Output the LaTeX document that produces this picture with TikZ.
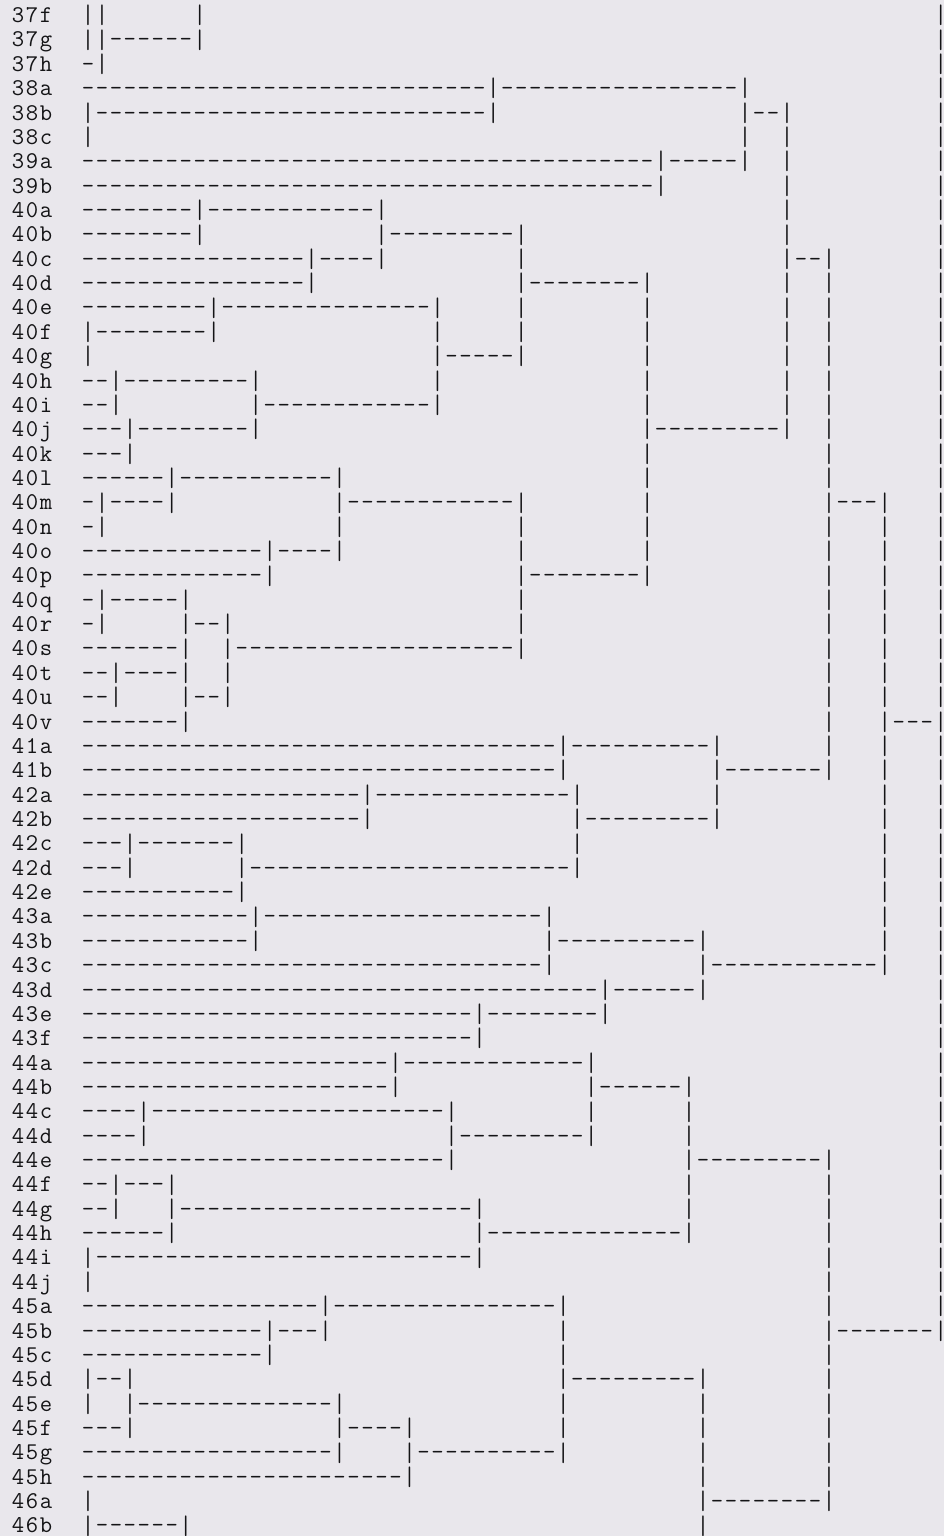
\documentclass[tikz,border=0pt]{standalone}
\usepackage{fontspec}
\usepackage{graphicx}
\usepackage{tikz}
\definecolor{paper}{RGB}{233,231,236}
\definecolor{ink}{RGB}{20,20,22}
\newdimen\cwd \cwd=13.98pt
\newcommand\Cell[1]{\hbox to \cwd{\hss#1\hss}}
\newcommand\Vb{\Cell{\raisebox{-1.2pt}{\scalebox{1}[1.12]{|}}}}
\newcommand\Sp[1]{\hskip #1\cwd}
\ExplSyntaxOn
\cs_new:Npn \Dh #1 {\prg_replicate:nn{#1}{\Cell{-}}}
\cs_new:Npn \Lab #1 {\tl_map_function:nN {#1} \Cell}
\ExplSyntaxOff
\tikzset{rowtext/.style={inner sep=0pt, outer sep=0pt, anchor=base west, text=ink,
  font=\ttfamily\fontsize{24}{24}\selectfont\addfontfeature{FakeBold=0.8}}}
\newcommand\Row[3]{\node[rowtext] (r#2) at (11.1,{22.6+24.36*#1}) {\Lab{#2}\Sp{2}#3};}
\begin{document}
\begin{tikzpicture}[x=1pt,y=-1pt]
\fill[paper] (0,0) rectangle (944,1536);
\useasboundingbox (0,0) rectangle (944,1536);
\Row{0}{37f}{\Vb\Vb\Sp{6}\Vb\Sp{52}\Vb}
\Row{1}{37g}{\Vb\Vb\Dh{6}\Vb\Sp{52}\Vb}
\Row{2}{37h}{\Dh{1}\Vb\Sp{59}\Vb}
\Row{3}{38a}{\Dh{29}\Vb\Dh{17}\Vb\Sp{13}\Vb}
\Row{4}{38b}{\Vb\Dh{28}\Vb\Sp{17}\Vb\Dh{2}\Vb\Sp{10}\Vb}
\Row{5}{38c}{\Vb\Sp{46}\Vb\Sp{2}\Vb\Sp{10}\Vb}
\Row{6}{39a}{\Dh{41}\Vb\Dh{5}\Vb\Sp{2}\Vb\Sp{10}\Vb}
\Row{7}{39b}{\Dh{41}\Vb\Sp{8}\Vb\Sp{10}\Vb}
\Row{8}{40a}{\Dh{8}\Vb\Dh{12}\Vb\Sp{28}\Vb\Sp{10}\Vb}
\Row{9}{40b}{\Dh{8}\Vb\Sp{12}\Vb\Dh{9}\Vb\Sp{18}\Vb\Sp{10}\Vb}
\Row{10}{40c}{\Dh{16}\Vb\Dh{4}\Vb\Sp{9}\Vb\Sp{18}\Vb\Dh{2}\Vb\Sp{7}\Vb}
\Row{11}{40d}{\Dh{16}\Vb\Sp{14}\Vb\Dh{8}\Vb\Sp{9}\Vb\Sp{2}\Vb\Sp{7}\Vb}
\Row{12}{40e}{\Dh{9}\Vb\Dh{15}\Vb\Sp{5}\Vb\Sp{8}\Vb\Sp{9}\Vb\Sp{2}\Vb\Sp{7}\Vb}
\Row{13}{40f}{\Vb\Dh{8}\Vb\Sp{15}\Vb\Sp{5}\Vb\Sp{8}\Vb\Sp{9}\Vb\Sp{2}\Vb\Sp{7}\Vb}
\Row{14}{40g}{\Vb\Sp{24}\Vb\Dh{5}\Vb\Sp{8}\Vb\Sp{9}\Vb\Sp{2}\Vb\Sp{7}\Vb}
\Row{15}{40h}{\Dh{2}\Vb\Dh{9}\Vb\Sp{12}\Vb\Sp{14}\Vb\Sp{9}\Vb\Sp{2}\Vb\Sp{7}\Vb}
\Row{16}{40i}{\Dh{2}\Vb\Sp{9}\Vb\Dh{12}\Vb\Sp{14}\Vb\Sp{9}\Vb\Sp{2}\Vb\Sp{7}\Vb}
\Row{17}{40j}{\Dh{3}\Vb\Dh{8}\Vb\Sp{27}\Vb\Dh{9}\Vb\Sp{2}\Vb\Sp{7}\Vb}
\Row{18}{40k}{\Dh{3}\Vb\Sp{36}\Vb\Sp{12}\Vb\Sp{7}\Vb}
\Row{19}{40l}{\Dh{6}\Vb\Dh{11}\Vb\Sp{21}\Vb\Sp{12}\Vb\Sp{7}\Vb}
\Row{20}{40m}{\Dh{1}\Vb\Dh{4}\Vb\Sp{11}\Vb\Dh{12}\Vb\Sp{8}\Vb\Sp{12}\Vb\Dh{3}\Vb\Sp{3}\Vb}
\Row{21}{40n}{\Dh{1}\Vb\Sp{16}\Vb\Sp{12}\Vb\Sp{8}\Vb\Sp{12}\Vb\Sp{3}\Vb\Sp{3}\Vb}
\Row{22}{40o}{\Dh{13}\Vb\Dh{4}\Vb\Sp{12}\Vb\Sp{8}\Vb\Sp{12}\Vb\Sp{3}\Vb\Sp{3}\Vb}
\Row{23}{40p}{\Dh{13}\Vb\Sp{17}\Vb\Dh{8}\Vb\Sp{12}\Vb\Sp{3}\Vb\Sp{3}\Vb}
\Row{24}{40q}{\Dh{1}\Vb\Dh{5}\Vb\Sp{23}\Vb\Sp{21}\Vb\Sp{3}\Vb\Sp{3}\Vb}
\Row{25}{40r}{\Dh{1}\Vb\Sp{5}\Vb\Dh{2}\Vb\Sp{20}\Vb\Sp{21}\Vb\Sp{3}\Vb\Sp{3}\Vb}
\Row{26}{40s}{\Dh{7}\Vb\Sp{2}\Vb\Dh{20}\Vb\Sp{21}\Vb\Sp{3}\Vb\Sp{3}\Vb}
\Row{27}{40t}{\Dh{2}\Vb\Dh{4}\Vb\Sp{2}\Vb\Sp{42}\Vb\Sp{3}\Vb\Sp{3}\Vb}
\Row{28}{40u}{\Dh{2}\Vb\Sp{4}\Vb\Dh{2}\Vb\Sp{42}\Vb\Sp{3}\Vb\Sp{3}\Vb}
\Row{29}{40v}{\Dh{7}\Vb\Sp{45}\Vb\Sp{3}\Vb\Dh{3}\Vb}
\Row{30}{41a}{\Dh{34}\Vb\Dh{10}\Vb\Sp{7}\Vb\Sp{3}\Vb\Sp{3}\Vb}
\Row{31}{41b}{\Dh{34}\Vb\Sp{10}\Vb\Dh{7}\Vb\Sp{3}\Vb\Sp{3}\Vb}
\Row{32}{42a}{\Dh{20}\Vb\Dh{14}\Vb\Sp{9}\Vb\Sp{11}\Vb\Sp{3}\Vb}
\Row{33}{42b}{\Dh{20}\Vb\Sp{14}\Vb\Dh{9}\Vb\Sp{11}\Vb\Sp{3}\Vb}
\Row{34}{42c}{\Dh{3}\Vb\Dh{7}\Vb\Sp{23}\Vb\Sp{21}\Vb\Sp{3}\Vb}
\Row{35}{42d}{\Dh{3}\Vb\Sp{7}\Vb\Dh{23}\Vb\Sp{21}\Vb\Sp{3}\Vb}
\Row{36}{42e}{\Dh{11}\Vb\Sp{45}\Vb\Sp{3}\Vb}
\Row{37}{43a}{\Dh{12}\Vb\Dh{20}\Vb\Sp{23}\Vb\Sp{3}\Vb}
\Row{38}{43b}{\Dh{12}\Vb\Sp{20}\Vb\Dh{10}\Vb\Sp{12}\Vb\Sp{3}\Vb}
\Row{39}{43c}{\Dh{33}\Vb\Sp{10}\Vb\Dh{12}\Vb\Sp{3}\Vb}
\Row{40}{43d}{\Dh{37}\Vb\Dh{6}\Vb\Sp{16}\Vb}
\Row{41}{43e}{\Dh{28}\Vb\Dh{8}\Vb\Sp{23}\Vb}
\Row{42}{43f}{\Dh{28}\Vb\Sp{32}\Vb}
\Row{43}{44a}{\Dh{22}\Vb\Dh{13}\Vb\Sp{24}\Vb}
\Row{44}{44b}{\Dh{22}\Vb\Sp{13}\Vb\Dh{6}\Vb\Sp{17}\Vb}
\Row{45}{44c}{\Dh{4}\Vb\Dh{21}\Vb\Sp{9}\Vb\Sp{6}\Vb\Sp{17}\Vb}
\Row{46}{44d}{\Dh{4}\Vb\Sp{21}\Vb\Dh{9}\Vb\Sp{6}\Vb\Sp{17}\Vb}
\Row{47}{44e}{\Dh{26}\Vb\Sp{16}\Vb\Dh{9}\Vb\Sp{7}\Vb}
\Row{48}{44f}{\Dh{2}\Vb\Dh{3}\Vb\Sp{36}\Vb\Sp{9}\Vb\Sp{7}\Vb}
\Row{49}{44g}{\Dh{2}\Vb\Sp{3}\Vb\Dh{21}\Vb\Sp{14}\Vb\Sp{9}\Vb\Sp{7}\Vb}
\Row{50}{44h}{\Dh{6}\Vb\Sp{21}\Vb\Dh{14}\Vb\Sp{9}\Vb\Sp{7}\Vb}
\Row{51}{44i}{\Vb\Dh{27}\Vb\Sp{24}\Vb\Sp{7}\Vb}
\Row{52}{44j}{\Vb\Sp{52}\Vb\Sp{7}\Vb}
\Row{53}{45a}{\Dh{17}\Vb\Dh{16}\Vb\Sp{18}\Vb\Sp{7}\Vb}
\Row{54}{45b}{\Dh{13}\Vb\Dh{3}\Vb\Sp{16}\Vb\Sp{18}\Vb\Dh{7}\Vb}
\Row{55}{45c}{\Dh{13}\Vb\Sp{20}\Vb\Sp{18}\Vb}
\Row{56}{45d}{\Vb\Dh{2}\Vb\Sp{30}\Vb\Dh{9}\Vb\Sp{8}\Vb}
\Row{57}{45e}{\Vb\Sp{2}\Vb\Dh{14}\Vb\Sp{15}\Vb\Sp{9}\Vb\Sp{8}\Vb}
\Row{58}{45f}{\Dh{3}\Vb\Sp{14}\Vb\Dh{4}\Vb\Sp{10}\Vb\Sp{9}\Vb\Sp{8}\Vb}
\Row{59}{45g}{\Dh{18}\Vb\Sp{4}\Vb\Dh{10}\Vb\Sp{9}\Vb\Sp{8}\Vb}
\Row{60}{45h}{\Dh{23}\Vb\Sp{20}\Vb\Sp{8}\Vb}
\Row{61}{46a}{\Vb\Sp{43}\Vb\Dh{8}\Vb}
\Row{62}{46b}{\Vb\Dh{6}\Vb\Sp{36}\Vb}
\end{tikzpicture}
\end{document}
